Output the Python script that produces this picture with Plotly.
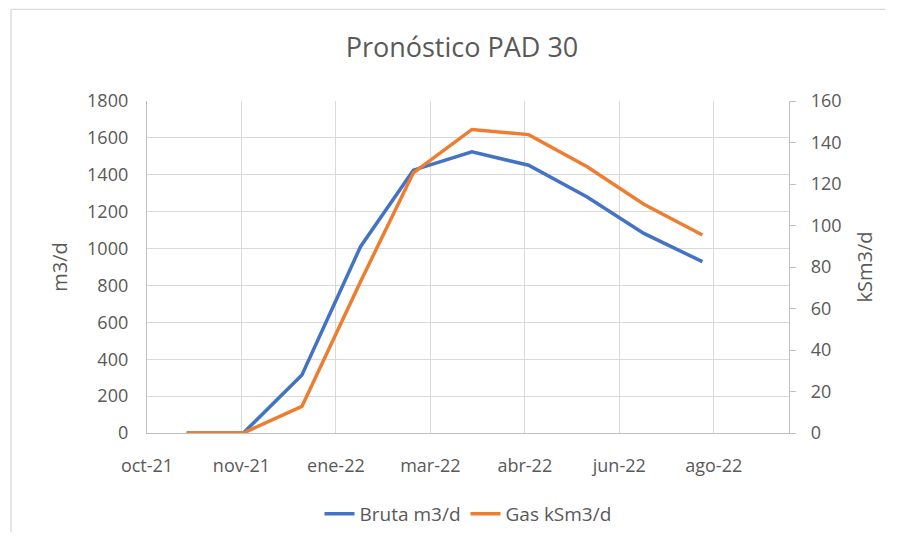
import plotly.graph_objects as go

# monthly forecast points
fechas = ["2021-11-01", "2021-12-01", "2022-01-01", "2022-02-01", "2022-03-01",
          "2022-04-01", "2022-05-01", "2022-06-01", "2022-07-01", "2022-08-01"]
bruta_m3d = [0, 0, 315, 1010, 1425, 1524, 1452, 1280, 1082, 929]
gas_ksm3d = [0, 0, 12.8, 72.9, 125.4, 146.3, 143.8, 128.3, 110.2, 95.4]

# excel date axis, major unit 50 days
tick_fechas = ["2021-10-11", "2021-11-30", "2022-01-19", "2022-03-10",
               "2022-04-29", "2022-06-18", "2022-08-07"]
tick_labels = ["oct-21", "nov-21", "ene-22", "mar-22", "abr-22", "jun-22", "ago-22"]

FONT = "Open Sans"
GRIS = "#595959"

fig = go.Figure()
fig.add_trace(go.Scatter(x=fechas, y=bruta_m3d, name="Bruta m3/d", mode="lines",
                         line=dict(color="#4472C4", width=3.5)))
fig.add_trace(go.Scatter(x=fechas, y=gas_ksm3d, name="Gas kSm3/d", mode="lines",
                         line=dict(color="#ED7D31", width=3.5), yaxis="y2"))

# chart frame: top and left edges, kept a few px inside the figure so the page doesn't overflow
marco = dict(type="line", xref="paper", yref="paper",
             line=dict(color="#d9d9d9", width=1.3), layer="below")

# page body adds 8px on every side; keep the figure small enough to avoid scrollbars
fig.update_layout(
    width=887, height=530,
    margin=dict(l=139, r=106, t=93, b=105),
    paper_bgcolor="white", plot_bgcolor="white",
    font=dict(family=FONT, color=GRIS, size=18),
    title=dict(text="Pronóstico PAD 30", font=dict(size=27, color=GRIS),
               xref="container", x=454 / 887, xanchor="center",
               yref="container", y=1 - 40 / 530, yanchor="middle"),
    xaxis=dict(type="date", range=["2021-10-11", "2022-09-15 20:00"],
               tickvals=tick_fechas, ticktext=tick_labels,
               showgrid=True, gridcolor="#d9d9d9", gridwidth=1.3,
               showline=True, linecolor="#bfbfbf", linewidth=1.3,
               ticks="", ticklabelstandoff=16, zeroline=False),
    yaxis=dict(range=[0, 1800], dtick=200, showgrid=True, gridcolor="#d9d9d9",
               gridwidth=1.3, showline=True, linecolor="#bfbfbf", linewidth=1.3,
               ticks="", ticklabelstandoff=14, zeroline=False,
               title=dict(text="m3/d", font=dict(size=20), standoff=14)),
    yaxis2=dict(range=[0, 160], dtick=20, overlaying="y", side="right",
                showgrid=False, showline=True, linecolor="#bfbfbf", linewidth=1.3,
                ticks="outside", ticklen=6, tickcolor="#bfbfbf", tickwidth=1.3,
                ticklabelstandoff=11, zeroline=False,
                title=dict(text="kSm3/d", font=dict(size=20), standoff=17)),
    legend=dict(orientation="h", x=0.5, xanchor="center",
                yref="container", y=1 - 506 / 530, yanchor="middle",
                font=dict(size=19)),
    shapes=[dict(marco, x0=-0.2118, x1=1.15, y0=1.276, y1=1.276),
            dict(marco, x0=-0.2118, x1=-0.2118, y0=-0.30, y1=1.276)],
)

fig.write_html("out.html")
